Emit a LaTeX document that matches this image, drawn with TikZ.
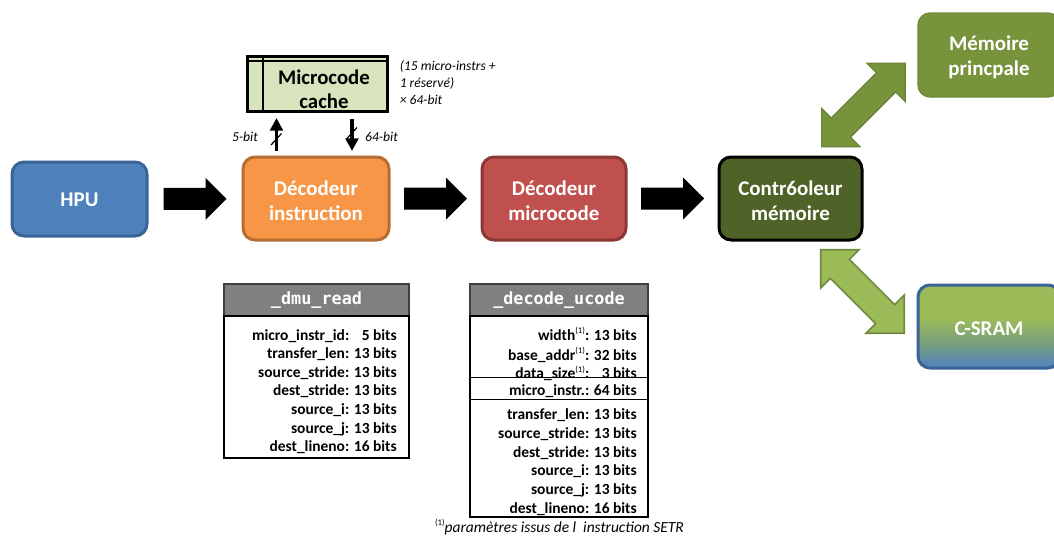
\documentclass[tikz,border=0pt]{standalone}
\usepackage{fontspec}
\setmainfont{Carlito}
\setmonofont{DejaVu Sans Mono}
\usetikzlibrary{calc,arrows.meta}
\definecolor{hpuF}{HTML}{4F81BD}
\definecolor{hpuD}{HTML}{3A6496}
\definecolor{decAF}{HTML}{F79646}
\definecolor{decAD}{HTML}{B66D31}
\definecolor{decBF}{HTML}{C0504D}
\definecolor{decBD}{HTML}{8C3836}
\definecolor{ctrlF}{HTML}{4F6228}
\definecolor{memF}{HTML}{77933C}
\definecolor{memD}{HTML}{6E8A37}
\definecolor{upF}{HTML}{77933C}
\definecolor{upD}{HTML}{6A8434}
\definecolor{lowF}{HTML}{9BBB59}
\definecolor{lowD}{HTML}{71893F}
\definecolor{cacheF}{HTML}{D7E4BD}
\definecolor{headG}{HTML}{808080}
\definecolor{sramMid}{HTML}{7AA07E}
\newcommand\fnmark{\raisebox{0.42em}{\fontsize{6.5}{7}\selectfont\mdseries(1)}}
\pgfdeclareverticalshading{csramshade}{100bp}{color(0bp)=(hpuF); color(25bp)=(hpuF); color(40bp)=(sramMid); color(55bp)=(lowF); color(100bp)=(lowF)}
\tikzset{
  box/.style={rounded corners=9pt, line width=2.25pt, inner sep=2pt},
  boxtxt/.style={text=white, align=center, inner sep=0pt, yshift=-1.9pt,
    font=\fontsize{15.7}{18.75}\selectfont\bfseries},
  barrow/.pic={\fill[black] (-31.5,-11) -- (10.5,-11) -- (10.5,-21) -- (31.5,0) -- (10.5,21) -- (10.5,11) -- (-31.5,11) -- cycle;},
  darrow/.pic={\path[pic actions] (-59,0) -- (-32,-27) -- (-32,-13.5) -- (32,-13.5) -- (32,-27) -- (59,0) -- (32,27) -- (32,13.5) -- (-32,13.5) -- (-32,27) -- cycle;},
  smallarrow/.style={line width=2.4pt, -{Triangle[length=9.5pt,width=9.5pt]}},
  slash/.style={line width=0.9pt},
  note/.style={font=\fontsize{10.2}{12.75}\selectfont\itshape, inner sep=0pt},
  thead/.style={draw=black!75, line width=0.8pt, fill=headG, text=white, inner sep=0pt,
    font=\ttfamily\bfseries\fontsize{12.6}{15}\selectfont, minimum height=24pt},
  tbody/.style={draw=black, line width=0.9pt, fill=white, inner sep=0pt},
  row/.style={anchor=base east, inner sep=0pt, font=\fontsize{11.6}{14}\selectfont\bfseries},
}
\begin{document}
\begin{tikzpicture}[x=0.75pt,y=-0.75pt]
\useasboundingbox (0,0) rectangle (1054,536);
\clip (0,0) rectangle (1054,536);

% main boxes
\node[box, fill=hpuF, draw=hpuD, minimum width=101.25pt, minimum height=55.5pt,
  label={[boxtxt, yshift=1pt]center:HPU}] (hpu) at (79.5,199) {};
\node[box, fill=decAF, draw=decAD, minimum width=109.5pt, minimum height=62.25pt,
  label={[boxtxt]center:{Décodeur\\instruction}}] (decA) at (316,198.5) {};
\node[box, fill=decBF, draw=decBD, minimum width=108pt, minimum height=62.25pt,
  label={[boxtxt]center:{Décodeur\\microcode}}] (decB) at (554,198.5) {};
\node[box, fill=ctrlF, draw=black, minimum width=107.25pt, minimum height=62.25pt,
  label={[boxtxt]center:{Contr6oleur\\mémoire}}] (ctrl) at (790.5,198.5) {};
\node[box, fill=memF, draw=memD, line width=1pt, minimum width=106.5pt, minimum height=63pt,
  label={[boxtxt]center:{Mémoire\\princpale}}] (mem) at (989,55) {};
\node[box, shading=csramshade, draw=hpuD, minimum width=106.5pt, minimum height=62.25pt,
  label={[boxtxt]center:C-SRAM}] (sram) at (989,326.5) {};

% block arrows
\pic (ba1) at ($(hpu.east)!0.5!(decA.west)$) {barrow};
\pic (ba2) at ($(decA.east)!0.5!(decB.west)$) {barrow};
\pic (ba3) at ($(decB.east)!0.5!(ctrl.west)$) {barrow};

% double arrows
\pic[fill=upF, draw=upD, line width=1pt, rotate=45] (da1) at (863.5,105) {darrow};
\pic[fill=lowF, draw=lowD, line width=1.2pt, rotate=-45] (da2) at (862.5,291.5) {darrow};

% microcode cache
\node[draw=black, line width=2.25pt, fill=cacheF, minimum width=105pt, minimum height=41.25pt, inner sep=0pt] (cache) at (317,83.5) {};
\draw[line width=1.6pt] ($(cache.north west)+(0,6.5)$) -- ($(cache.north east)+(0,6.5)$);
\draw[line width=1.8pt] ($(cache.north west)+(17.5,0)$) -- ($(cache.south west)+(17.5,0)$);
\node[font=\fontsize{15.6}{18}\selectfont\bfseries, align=center, inner sep=0pt] (cachelbl) at (324,89) {Microcode\\cache};
\node[note, anchor=west, align=left] (cachenote) at (399.5,83) {(15 micro-instrs +\\1 réservé)\\× 64-bit};

% small arrows
\coordinate (upS) at (276.5,151);
\coordinate (upE) at (276.5,118);
\coordinate (dnS) at (352,118.5);
\coordinate (dnE) at (352,151);
\draw[smallarrow] (upS) -- (upE);
\draw[smallarrow] (dnS) -- (dnE);
\draw[slash] (271,145) -- (281.5,133.5);
\draw[slash] (346.5,139) -- (357,127.5);
\node[note] (lbl5) at (245,137) {5-bit};
\node[note] (lbl64) at (381.5,137) {64-bit};

% table 1
\node[thead, minimum width=138.75pt] (t1h) at (316.5,300) {\_dmu\_read};
\node[tbody, minimum width=138.75pt, minimum height=106.5pt] (t1b) at (316.5,387) {};
\foreach \nm/\val [count=\i] in {micro\_instr\_id:/\hphantom{1}5, transfer\_len:/13, source\_stride:/13, dest\_stride:/13, source\_i:/13, source\_j:/13, dest\_lineno:/16}
  \node[row] (t1r\i) at (397,{340+18.6*(\i-1)}) {\nm{} \val{} bits};

% table 2
\node[thead, minimum width=133.5pt] (t2h) at (559,300) {\_decode\_ucode};
\node[tbody, minimum width=133.5pt, minimum height=150.75pt] (t2b) at (559,416.5) {};
\draw[line width=0.9pt] ($(t2b.north west)+(0,62)$) -- ($(t2b.north east)+(0,62)$);
\draw[line width=0.9pt] ($(t2b.north west)+(0,84)$) -- ($(t2b.north east)+(0,84)$);
\foreach \nm/\val/\yy [count=\i] in {width\fnmark:/13/340, base\_addr\fnmark:/32/360, data\_size\fnmark:/\hphantom{1}3/378.5, micro\_instr.:/64/395, transfer\_len:/13/419, source\_stride:/13/438, dest\_stride:/13/457, source\_i:/13/475.5, source\_j:/13/494.5, dest\_lineno:/16/513}
  \node[row] (t2r\i) at (637,\yy) {\nm{} \val{} bits};

% footnote
\node[font=\fontsize{11.6}{13}\selectfont, inner sep=0pt] (foot) at (559.5,527) {\fnmark\textit{paramètres issus de l\ \ instruction SETR}};
\end{tikzpicture}
\end{document}
